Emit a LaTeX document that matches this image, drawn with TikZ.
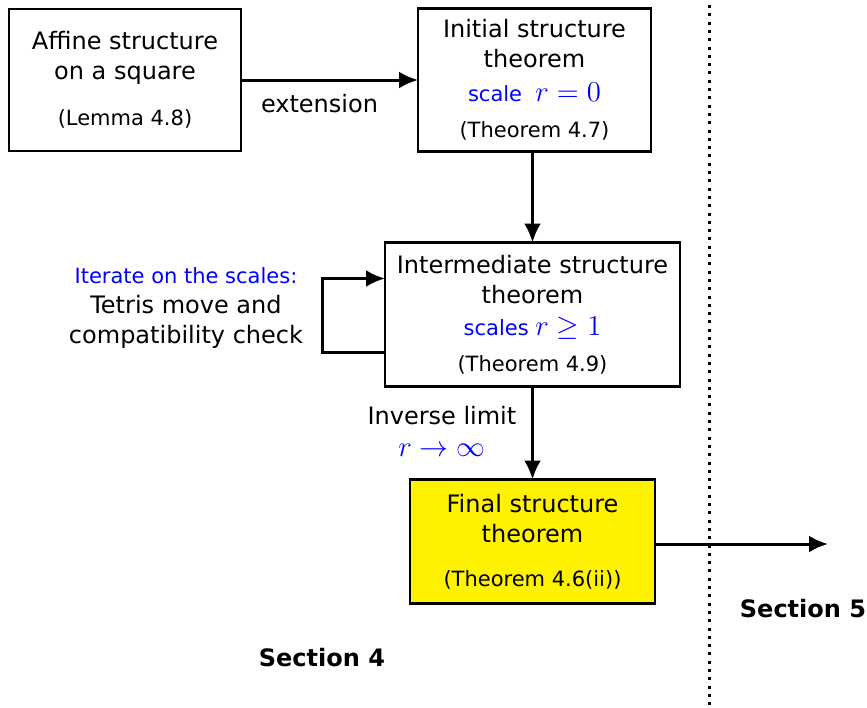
\documentclass[tikz,border=0pt]{standalone}
\usepackage{fontspec}
\setmainfont{DejaVu Sans}
\usepackage{xcolor}
\usetikzlibrary{arrows.meta,positioning,calc}

\newcommand{\bigmath}[1]{{\fontsize{13.5}{15}\selectfont$#1$}}

\begin{document}
\begin{tikzpicture}[
    x=0.5pt, y=-0.5pt,
    font=\fontsize{12}{15}\selectfont,
    thm/.style={rectangle, draw=black, line width=1.1pt, align=center, inner sep=0pt, outer sep=0pt},
    arrow/.style={-{Latex[length=9.5pt,width=8.5pt]}, line width=1.5pt},
    sect/.style={font=\fontsize{12}{15}\selectfont\bfseries},
]
\useasboundingbox (0,0) rectangle (867,707);

% Theorem boxes
\node[thm, minimum width=116pt, minimum height=71pt] (affine) at (125,80)
    {Affine structure\\on a square\\[8pt]{\fontsize{10.5}{13}\selectfont(Lemma 4.8)}};
\node[thm, minimum width=116.5pt, minimum height=71.5pt, right=88.5pt of affine] (initial)
    {Initial structure\\theorem\\[2pt]{\color{blue}\fontsize{10.5}{13}\selectfont scale~~\bigmath{r=0}}\\[3pt]{\fontsize{10.5}{13}\selectfont(Theorem 4.7)}};
\node[thm, minimum width=147.5pt, minimum height=72pt, below=45.5pt of initial, xshift=-1pt] (inter)
    {Intermediate structure\\theorem\\[1pt]{\color{blue}\fontsize{10.5}{13}\selectfont scales \bigmath{r\geq 1}}\\[3pt]{\fontsize{10.5}{13}\selectfont(Theorem 4.9)}};
\node[thm, fill=yellow, minimum width=122.5pt, minimum height=62pt, below=46.5pt of inter] (final)
    {Final structure\\theorem\\[7pt]{\fontsize{10.5}{13}\selectfont(Theorem 4.6(ii))}};

% Arrows between boxes
\draw[arrow] (affine) -- node[below=3pt, xshift=-5pt] {extension} (initial);
\draw[arrow] (initial.south -| inter) -- (inter);
\draw[arrow] (inter) -- node[left=4pt, align=center, yshift=1pt] {Inverse limit\\[1pt]{\color{blue}\bigmath{r\to\infty}}} (final);

% Iteration loop
\draw[arrow] ([yshift=-19pt]inter.west) -- ++(-31.5pt,0) |- ([yshift=18pt]inter.west);
\node[align=center] (iterate) at (186,308)
    {{\color{blue}\fontsize{10.5}{13}\selectfont Iterate on the scales:}\\Tetris move and\\compatibility check};

% Towards Section 5
\coordinate (out) at (828,544);
\draw[arrow] (final.east |- out) -- (out);

% Section boundary
\coordinate (top) at (709,5);
\coordinate (bottom) at (709,705);
\draw[line width=1.5pt, dash pattern=on 1.5pt off 2.65pt] (top) -- (bottom);
\node[sect] (sec4) at (322,658) {Section 4};
\node[sect] (sec5) at (803,609) {Section 5};

\end{tikzpicture}
\end{document}
